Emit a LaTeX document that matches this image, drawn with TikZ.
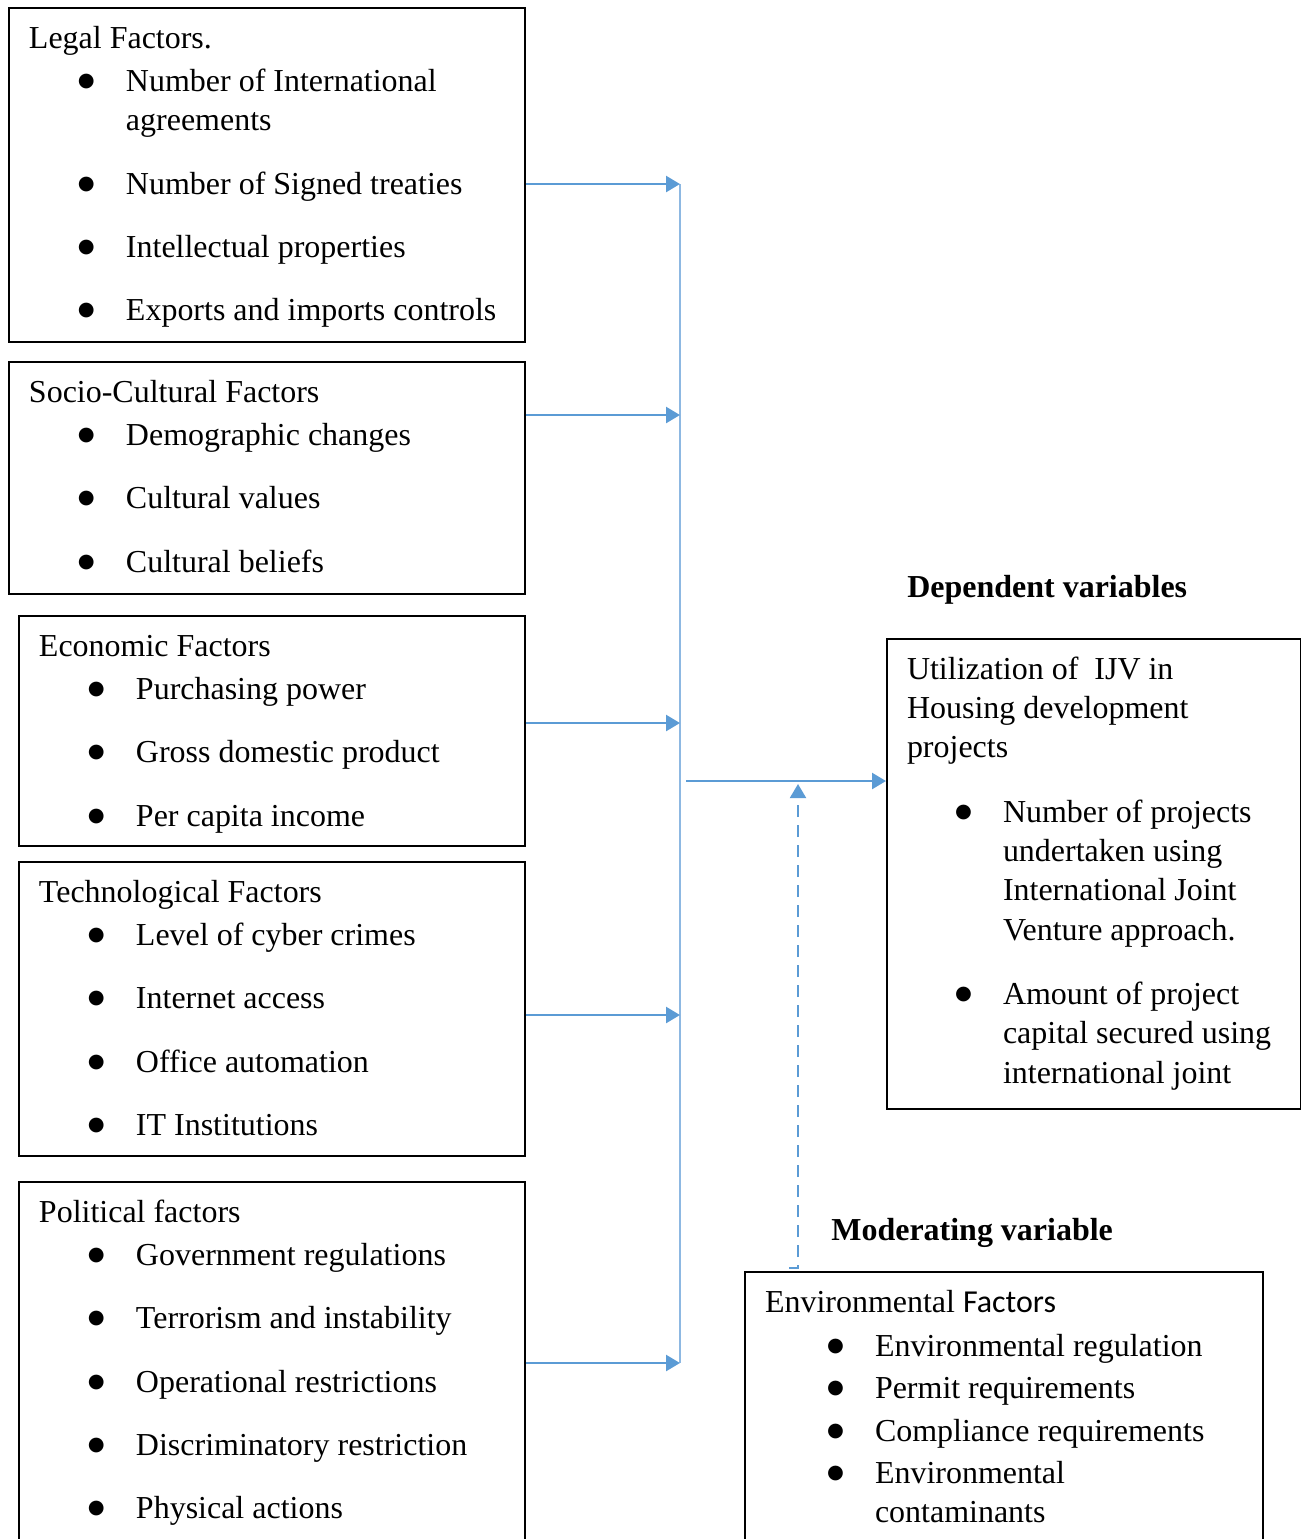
\documentclass[tikz,border=0pt]{standalone}
\usepackage{fontspec}
\setmainfont{Liberation Serif}
\newfontfamily\calfont{Carlito}
\newfontfamily\dotfont{DejaVu Sans}
\usepackage{tikz}
\usetikzlibrary{arrows.meta,positioning,calc}
\definecolor{arrblue}{HTML}{5B9BD5}
\definecolor{busblue}{HTML}{8DB8E2}
\newlength{\px}
\setlength{\px}{0.02cm}
\newcommand{\bitem}[2]{\par\hangindent=#1\px\hangafter=1\noindent\hspace*{\dimexpr#1\px-49\px\relax}%
  \makebox[49\px][l]{\hspace*{1\px}\raisebox{5\px}{\dotfont\fontsize{11}{11}\selectfont ●}}#2}
\newcommand{\boxtext}[4][24]{\begin{minipage}[t][#3\px][t]{#2\px}\setlength{\parskip}{#1\px}\rule{0pt}{40\px}#4\end{minipage}}
\tikzset{
  facbox/.style={rectangle, draw=black, line width=0.04cm, inner xsep=0.4cm, inner ysep=0pt,
                 anchor=north west, font=\fontsize{18.2}{22.4}\selectfont},
  head/.style={anchor=base west, inner sep=0pt, font=\fontsize{18.2}{22.4}\selectfont\bfseries},
  arr/.style={-{Triangle[length=0.28cm, width=0.32cm]}, line width=0.05cm, draw=arrblue},
  bus/.style={line width=0.035cm, draw=busblue},
  dasharr/.style={-{Triangle[length=0.28cm, width=0.32cm]}, line width=0.04cm, draw=arrblue,
                  dash pattern=on 0.24cm off 0.16cm},
}

\begin{document}
\begin{tikzpicture}[x=0.02cm, y=-0.02cm]
    \useasboundingbox (0,0) rectangle (1301,1539);
    \clip (0,0) rectangle (1301,1539);
    % independent variables
    \node[facbox] (legal) at (8,7) {\boxtext{476}{334}{Legal Factors.\par\vspace{-20\px}
      \bitem{97}{Number of International\\agreements}
      \bitem{97}{Number of Signed treaties}
      \bitem{97}{Intellectual properties}
      \bitem{97}{Exports and imports controls}}};
    \node[facbox] (socio) at (8,361) {\boxtext{476}{232}{Socio-Cultural Factors\par\vspace{-20\px}
      \bitem{97}{Demographic changes}
      \bitem{97}{Cultural values}
      \bitem{97}{Cultural beliefs}}};
    \node[facbox] (econ) at (18,615) {\boxtext{466}{230}{Economic Factors\par\vspace{-20\px}
      \bitem{97}{Purchasing power}
      \bitem{97}{Gross domestic product}
      \bitem{97}{Per capita income}}};
    \node[facbox] (tech) at (18,861) {\boxtext{466}{294}{Technological Factors\par\vspace{-20\px}
      \bitem{97}{Level of cyber crimes}
      \bitem{97}{Internet access}
      \bitem{97}{Office automation}
      \bitem{97}{IT Institutions}}};
    \node[facbox] (polit) at (18,1181) {\boxtext{466}{420}{Political factors\par\vspace{-20\px}
      \bitem{97}{Government regulations}
      \bitem{97}{Terrorism and instability}
      \bitem{97}{Operational restrictions}
      \bitem{97}{Discriminatory restriction}
      \bitem{97}{Physical actions}}};
    % dependent and moderating variables
    \node[head] (dephead) at (907,597) {Dependent variables};
    \node[facbox] (util) at (886,638) {\boxtext[25]{374}{470}{Utilization of~ IJV in\\Housing development\\projects
      \bitem{96}{Number of projects\\undertaken using\\International Joint\\Venture approach.}
      \bitem{96}{Amount of project\\capital secured using\\international joint}}};
    \node[head] (modhead) at (831,1240) {Moderating variable};
    \node[facbox] (envir) at (744,1271) {\boxtext[3]{478}{330}{Environmental {\calfont Factors}\par\vspace{2\px}
      \bitem{110}{Environmental regulation}
      \bitem{110}{Permit requirements}
      \bitem{110}{Compliance requirements}
      \bitem{110}{Environmental\\contaminants}}};
    % connectors
    \coordinate (j1) at (680,184);
    \coordinate (j2) at (680,415);
    \coordinate (j3) at (680,723);
    \coordinate (j4) at (680,1015);
    \coordinate (j5) at (680,1363);
    \coordinate (jout) at (686,781);
    \coordinate (m0) at (789,1268);
    \coordinate (mtop) at (798,784);
    \draw[bus] (j1) -- (j5);
    \draw[arr] (legal.east |- j1) -- (j1);
    \draw[arr] (socio.east |- j2) -- (j2);
    \draw[arr] (econ.east |- j3) -- (j3);
    \draw[arr] (tech.east |- j4) -- (j4);
    \draw[arr] (polit.east |- j5) -- (j5);
    \draw[arr] (jout) -- (util.west |- jout);
    \draw[dasharr] (m0) -- (m0 -| mtop) -- (mtop);
  \end{tikzpicture}
\end{document}
